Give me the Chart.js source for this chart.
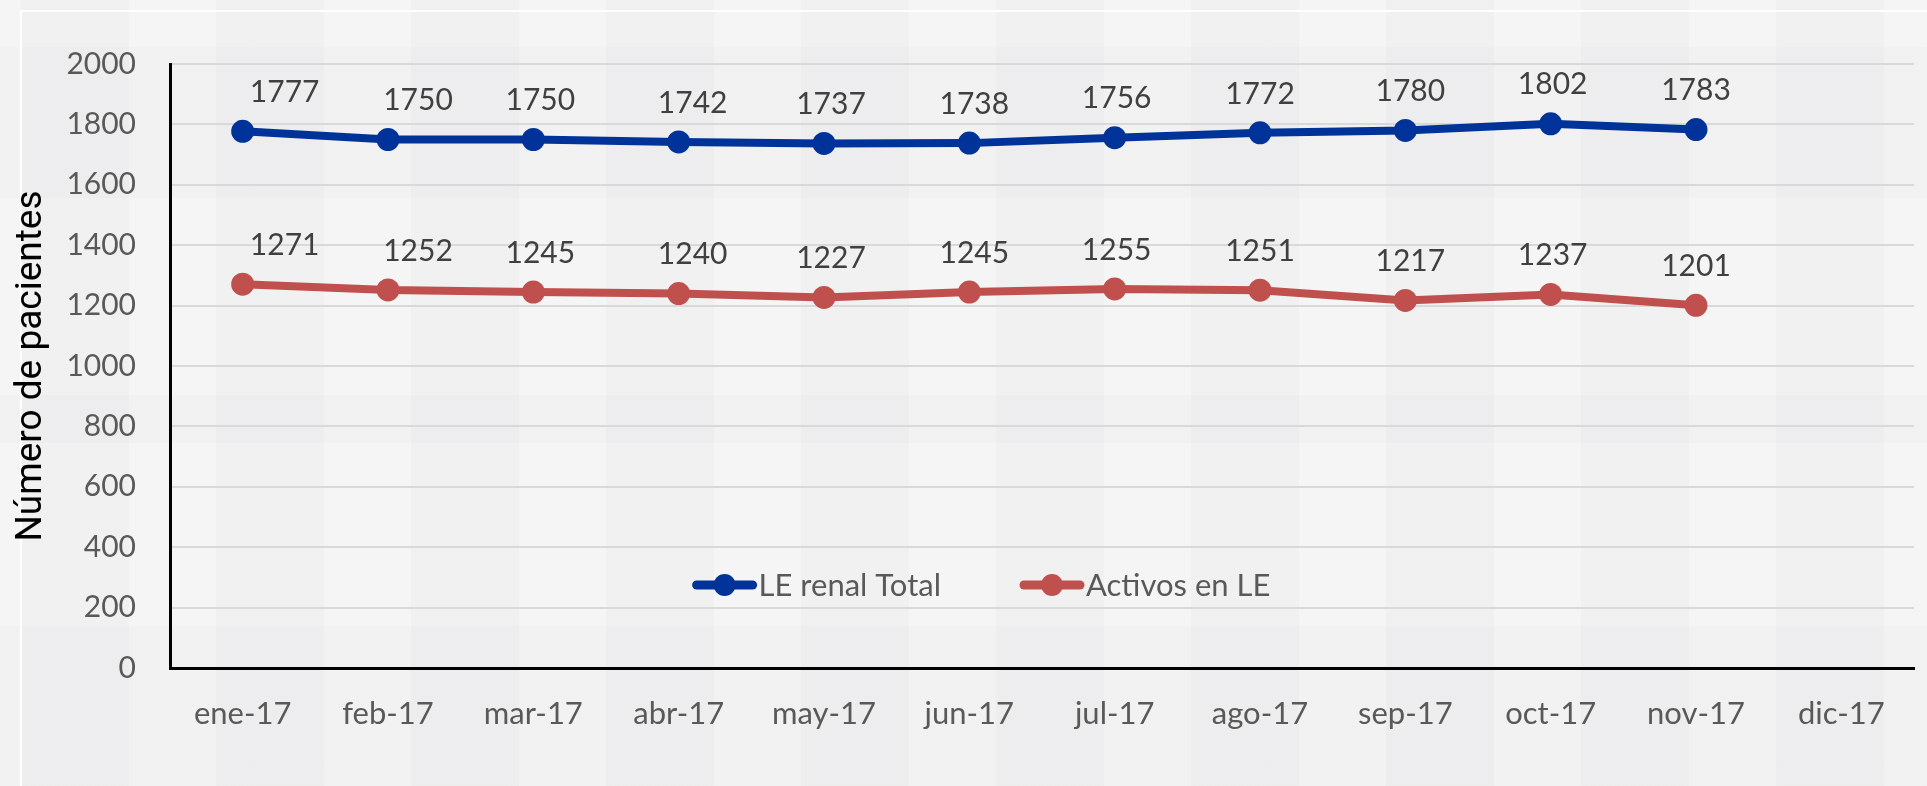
<!DOCTYPE html>
<html>
<head>
<meta charset="utf-8">
<script src="https://cdn.jsdelivr.net/npm/chart.js@4/dist/chart.umd.min.js"></script>
<style>
    html, body {
        margin: 0;
        padding: 0;
    }
    body {
        width: 1927px;
        height: 786px;
        overflow: hidden;
        position: relative;
        background-color: #f5f5f5;
        background-image:
            linear-gradient(180deg, transparent 0px, transparent 47px, rgba(70,70,90,0.018) 47px, rgba(70,70,90,0.018) 198px, transparent 198px, transparent 395px, rgba(70,70,90,0.018) 395px, rgba(70,70,90,0.018) 443px, transparent 443px, transparent 626px, rgba(70,70,90,0.018) 626px),
            repeating-linear-gradient(90deg, rgba(70,70,90,0.022) 0px, rgba(70,70,90,0.022) 108px, transparent 108px, transparent 195px);
        background-position: 0 0, 21px 0;
    }
    #marco {
        position: absolute;
        left: 20px;
        top: 10px;
        right: -10px;
        bottom: -10px;
        border-top: 2px solid #ffffff;
        border-left: 2px solid #ffffff;
    }
    #grafico {
        position: absolute;
        left: 0;
        top: 0;
    }
</style>
</head>
<body>
<div id="marco"></div>
<canvas id="grafico" width="1927" height="786"></canvas>
<script>
// datos
var meses = ["ene-17", "feb-17", "mar-17", "abr-17", "may-17", "jun-17", "jul-17", "ago-17", "sep-17", "oct-17", "nov-17", "dic-17"];
var leRenalTotal = [1777, 1750, 1750, 1742, 1737, 1738, 1756, 1772, 1780, 1802, 1783, null];
var activosEnLE = [1271, 1252, 1245, 1240, 1227, 1245, 1255, 1251, 1217, 1237, 1201, null];
var nombresSeries = ["LE renal Total", "Activos en LE"];
var coloresSeries = ["#003399", "#C0504D"];

// pequeños desplazamientos de las etiquetas (como en el original)
var desplazEtiqueta = [42, 30, 7, 14, 7, 5, 2, 0, 5, 2, 0, 0];

var etiquetasDatos = {
    id: "etiquetasDatos",
    afterDatasetsDraw: function (chart) {
        var ctx = chart.ctx;
        ctx.save();
        ctx.font = "30px Lato";
        ctx.fillStyle = "#404040";
        ctx.textAlign = "center";
        ctx.textBaseline = "middle";
        chart.data.datasets.forEach(function (ds, i) {
            var meta = chart.getDatasetMeta(i);
            meta.data.forEach(function (pt, j) {
                if (ds.data[j] == null) return;
                ctx.fillText(String(ds.data[j]), pt.x + desplazEtiqueta[j], pt.y - 39);
            });
        });
        ctx.restore();
    }
};

var leyendaInterna = {
    id: "leyendaInterna",
    afterDatasetsDraw: function (chart) {
        var ctx = chart.ctx;
        var area = chart.chartArea;
        ctx.save();
        ctx.font = "31px Lato";
        var anchoLinea = 64;
        var separacion = 79;
        var anchos = chart.data.datasets.map(function (ds) {
            return anchoLinea + 2 + ctx.measureText(ds.label).width;
        });
        var total = anchos.reduce(function (a, b) { return a + b; }, 0) + separacion;
        var x = chart.width / 2 + 18 - total / 2;
        var y = area.bottom - 83;
        chart.data.datasets.forEach(function (ds, i) {
            ctx.strokeStyle = ds.borderColor;
            ctx.lineWidth = 9;
            ctx.lineCap = "round";
            ctx.beginPath();
            ctx.moveTo(x + 4, y);
            ctx.lineTo(x + anchoLinea - 4, y);
            ctx.stroke();
            ctx.fillStyle = ds.borderColor;
            ctx.beginPath();
            ctx.arc(x + anchoLinea / 2, y, 11, 0, Math.PI * 2);
            ctx.fill();
            ctx.fillStyle = "#595959";
            ctx.textAlign = "left";
            ctx.textBaseline = "middle";
            ctx.fillText(ds.label, x + anchoLinea + 2, y + 1);
            x += anchos[i] + separacion;
        });
        ctx.restore();
    }
};

var ctx = document.getElementById("grafico").getContext("2d");

var grafico = new Chart(ctx, {
    type: "line",
    data: {
        labels: meses,
        datasets: [
            {
                label: nombresSeries[0],
                data: leRenalTotal,
                borderColor: coloresSeries[0],
                backgroundColor: coloresSeries[0],
                borderWidth: 8,
                pointRadius: 10,
                pointBorderWidth: 3,
                pointBackgroundColor: coloresSeries[0],
                pointBorderColor: coloresSeries[0],
                tension: 0
            },
            {
                label: nombresSeries[1],
                data: activosEnLE,
                borderColor: coloresSeries[1],
                backgroundColor: coloresSeries[1],
                borderWidth: 8,
                pointRadius: 10,
                pointBorderWidth: 3,
                pointBackgroundColor: coloresSeries[1],
                pointBorderColor: coloresSeries[1],
                tension: 0
            }
        ]
    },
    options: {
        responsive: false,
        animation: false,
        layout: {
            padding: { top: 64, right: 5, bottom: 0, left: 0 }
        },
        plugins: {
            legend: { display: false },
            tooltip: { enabled: false }
        },
        scales: {
            x: {
                offset: true,
                grid: { display: false, drawTicks: false },
                border: { display: true, color: "#000000", width: 3 },
                ticks: {
                    color: "#595959",
                    font: { family: "Lato", size: 31 },
                    padding: 27,
                    maxRotation: 0,
                    autoSkip: false
                },
                afterFit: function (scale) {
                    scale.height = 118;
                }
            },
            y: {
                min: 0,
                max: 2000,
                ticks: {
                    stepSize: 200,
                    color: "#595959",
                    font: { family: "Lato", size: 30 },
                    padding: 34,
                    callback: function (valor) {
                        return String(valor);
                    }
                },
                grid: { color: "#d9d9d9", lineWidth: 2, drawTicks: false },
                border: { display: true, color: "#000000", width: 3 },
                title: {
                    display: true,
                    text: "Número de pacientes",
                    color: "#000000",
                    font: { family: "Roboto", size: 37 },
                    padding: { top: 10, bottom: 0 }
                },
                afterFit: function (scale) {
                    scale.width = 170;
                }
            }
        }
    },
    plugins: [etiquetasDatos, leyendaInterna]
});
</script>
</body>
</html>
